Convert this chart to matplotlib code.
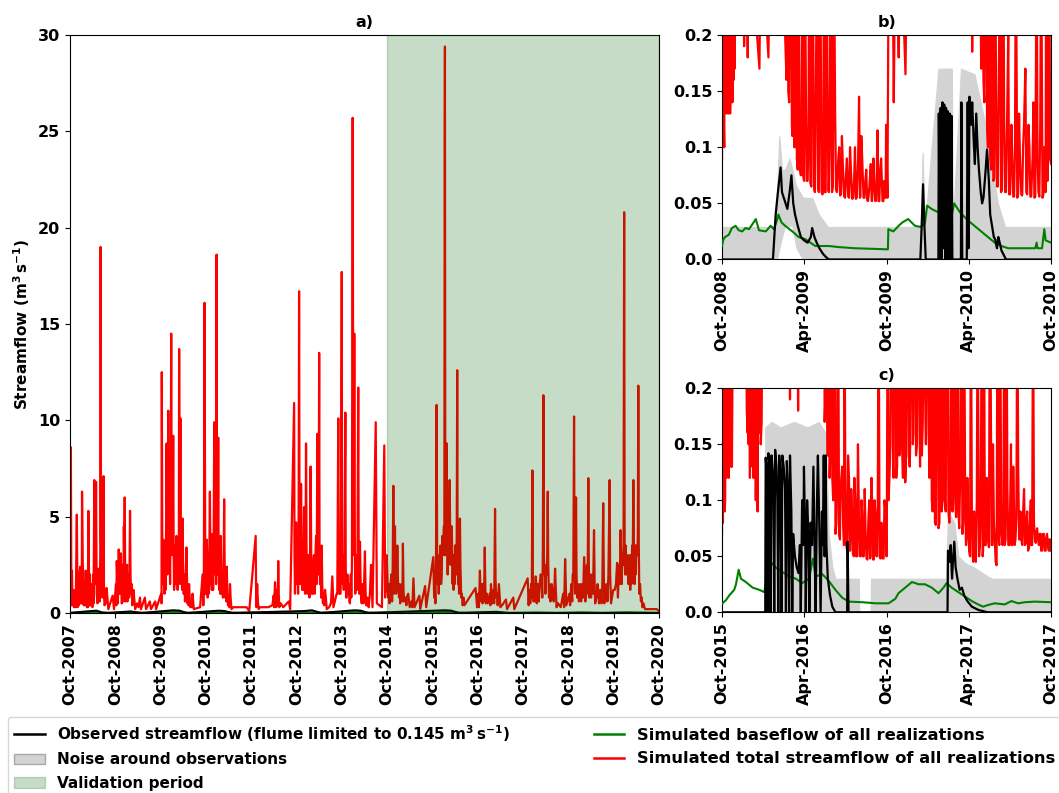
import numpy as np
import pandas as pd
import matplotlib
matplotlib.use("Agg")
import matplotlib.pyplot as plt
import matplotlib.dates as mdates
from matplotlib.lines import Line2D
from matplotlib.patches import Patch

plt.rcParams['font.family'] = 'DejaVu Sans'
plt.rcParams['font.weight'] = 'bold'
plt.rcParams['font.size'] = 11.5
plt.rcParams['axes.labelweight'] = 'bold'
plt.rcParams['axes.titleweight'] = 'bold'
plt.rcParams['mathtext.default'] = 'bf'

# ---- whole record: simulated total streamflow (m3/s), main events
total_dates = [
    '2007-10-01', '2007-10-08', '2007-10-12', '2007-10-25', '2007-11-05', '2007-11-25', '2007-12-01',
    '2007-12-15', '2008-01-06', '2008-01-12', '2008-01-20', '2008-02-05', '2008-02-15', '2008-02-26',
    '2008-03-05', '2008-03-20', '2008-03-30', '2008-04-14', '2008-04-20', '2008-04-28', '2008-05-10',
    '2008-05-20', '2008-05-28', '2008-06-04', '2008-06-10', '2008-06-28', '2008-07-05', '2008-07-22',
    '2008-08-05', '2008-09-09', '2008-09-20', '2008-10-12', '2008-10-20', '2008-10-28', '2008-11-05',
    '2008-11-13', '2008-11-25', '2008-12-08', '2008-12-15', '2008-12-25', '2009-01-10', '2009-01-20',
    '2009-01-27', '2009-02-05', '2009-02-24', '2009-03-10', '2009-04-17', '2009-04-25', '2009-05-27',
    '2009-06-05', '2009-07-06', '2009-07-15', '2009-08-18', '2009-08-25', '2009-10-10', '2009-10-15',
    '2009-10-23', '2009-11-01', '2009-11-18', '2009-11-24', '2009-12-01', '2009-12-08', '2009-12-25',
    '2010-01-02', '2010-01-10', '2010-01-20', '2010-02-05', '2010-02-15', '2010-02-27', '2010-03-03',
    '2010-03-09', '2010-03-15', '2010-03-27', '2010-04-05', '2010-04-27', '2010-05-05', '2010-05-18',
    '2010-05-28', '2010-06-15', '2010-06-25', '2010-08-15', '2010-09-04', '2010-09-10', '2010-09-20',
    '2010-09-26', '2010-10-08', '2010-10-15', '2010-11-02', '2010-11-10', '2010-11-20', '2010-11-28',
    '2010-12-07', '2010-12-14', '2010-12-26', '2011-01-02', '2011-01-08', '2011-01-15', '2011-01-28',
    '2011-02-05', '2011-02-25', '2011-03-05', '2011-03-18', '2011-03-28', '2011-04-13', '2011-04-25',
    '2011-06-05', '2011-08-25', '2011-09-15', '2011-11-06', '2011-11-12', '2011-11-18', '2011-11-30',
    '2012-02-15', '2012-04-10', '2012-04-20', '2012-05-06', '2012-05-15', '2012-07-30', '2012-08-10',
    '2012-09-11', '2012-09-18', '2012-09-27', '2012-10-05', '2012-10-21', '2012-10-28', '2012-11-06',
    '2012-11-15', '2012-11-30', '2012-12-08', '2012-12-16', '2012-12-25', '2013-01-04', '2013-01-12',
    '2013-01-22', '2013-02-01', '2013-02-13', '2013-02-25', '2013-03-07', '2013-03-12', '2013-03-17',
    '2013-03-24', '2013-04-01', '2013-04-08', '2013-04-21', '2013-05-01', '2013-05-18', '2013-06-01',
    '2013-07-16', '2013-07-25', '2013-08-20', '2013-09-02', '2013-09-10', '2013-09-30', '2013-10-08',
    '2013-10-29', '2013-11-08', '2013-11-21', '2013-12-05', '2013-12-27', '2014-01-02', '2014-01-09',
    '2014-01-20', '2014-02-10', '2014-02-18', '2014-02-24', '2014-03-10', '2014-04-05', '2014-04-15',
    '2014-05-24', '2014-06-05', '2014-07-01', '2014-07-10', '2014-08-20', '2014-09-08', '2014-09-15',
    '2014-09-27', '2014-10-10', '2014-11-20', '2014-11-26', '2014-12-03', '2014-12-12', '2014-12-22',
    '2015-01-05', '2015-02-05', '2015-02-15', '2015-03-20', '2015-04-01', '2015-05-01', '2015-05-10',
    '2015-06-18', '2015-06-25', '2015-08-03', '2015-08-12', '2015-10-08', '2015-10-15', '2015-11-04',
    '2015-11-12', '2015-12-01', '2015-12-15', '2016-01-08', '2016-01-10', '2016-01-16', '2016-01-24',
    '2016-02-01', '2016-02-17', '2016-02-24', '2016-03-04', '2016-03-12', '2016-04-01', '2016-04-10',
    '2016-04-18', '2016-04-25', '2016-05-10', '2016-05-20', '2016-06-15', '2016-09-13', '2016-09-25',
    '2016-10-18', '2016-10-28', '2016-11-26', '2016-12-05', '2017-01-15', '2017-01-25', '2017-02-17',
    '2017-02-25', '2017-03-20', '2017-04-01', '2017-05-16', '2017-05-25', '2017-07-14', '2017-07-22',
    '2017-11-07', '2017-11-15', '2017-12-15', '2017-12-25', '2018-01-11', '2018-01-20', '2018-02-20',
    '2018-03-05', '2018-03-14', '2018-03-22', '2018-04-18', '2018-04-28', '2018-05-20', '2018-06-16',
    '2018-06-28', '2018-09-05', '2018-09-15', '2018-11-05', '2018-11-16', '2018-11-24', '2018-12-02',
    '2018-12-12', '2019-02-05', '2019-02-15', '2019-03-11', '2019-03-20', '2019-04-26', '2019-05-05',
    '2019-07-09', '2019-07-18', '2019-08-30', '2019-09-10', '2019-10-29', '2019-11-05', '2019-11-26',
    '2019-12-05', '2019-12-25', '2020-01-02', '2020-02-02', '2020-02-12', '2020-03-08', '2020-03-18',
    '2020-04-17', '2020-04-25', '2020-05-28', '2020-06-10', '2020-09-13', '2020-09-30',
]
total_vals = [
    0.5, 8.6, 0.4, 1.0, 0.3, 5.1, 0.3,
    2.0, 6.3, 2.6, 0.4, 2.2, 0.3, 5.3,
    0.4, 1.5, 0.3, 6.9, 1.5, 6.8, 0.5,
    2.3, 0.6, 19.0, 2.5, 7.1, 0.4, 1.3,
    0.2, 0.9, 0.2, 2.7, 0.5, 3.3, 1.0,
    3.1, 0.6, 4.5, 6.0, 1.2, 2.0, 0.8,
    5.3, 1.0, 1.2, 0.2, 0.8, 0.2, 0.8,
    0.2, 0.6, 0.2, 0.6, 0.2, 12.5, 1.5,
    3.8, 1.0, 8.8, 2.0, 10.5, 2.5, 14.5,
    3.0, 9.2, 1.5, 4.0, 1.2, 13.7, 2.5,
    10.1, 1.5, 4.9, 1.0, 3.4, 0.5, 1.5,
    0.3, 1.0, 0.2, 0.3, 2.0, 0.4, 16.1,
    1.0, 3.8, 0.8, 6.3, 1.5, 4.1, 1.2,
    9.9, 2.0, 18.6, 2.0, 9.1, 1.2, 4.0,
    1.0, 5.9, 0.8, 2.4, 0.4, 1.5, 0.2,
    0.3, 0.3, 0.1, 4.0, 0.3, 1.5, 0.2,
    0.3, 1.6, 0.3, 2.7, 0.3, 0.6, 0.2,
    10.9, 1.0, 4.7, 1.5, 16.7, 1.5, 6.7,
    1.2, 5.5, 1.0, 8.8, 1.0, 3.0, 0.8,
    7.6, 1.0, 2.5, 1.0, 4.0, 1.5, 9.3,
    2.0, 13.5, 1.5, 3.5, 0.5, 1.2, 0.2,
    1.9, 0.3, 1.0, 10.1, 1.0, 17.7, 1.5,
    10.4, 0.8, 1.0, 0.5, 25.7, 3.0, 14.5,
    2.0, 11.7, 1.0, 3.7, 0.5, 3.2, 0.4,
    2.5, 0.3, 9.9, 0.5, 0.3, 8.7, 0.8,
    3.0, 0.8, 6.6, 1.0, 4.5, 1.0, 3.5,
    0.8, 3.6, 0.6, 1.0, 0.3, 1.8, 0.3,
    0.9, 0.2, 1.4, 0.3, 2.9, 0.8, 10.8,
    1.5, 3.0, 2.0, 24.4, 29.4, 3.0, 8.8,
    2.0, 6.9, 2.5, 4.5, 1.5, 3.5, 2.0,
    12.6, 1.5, 4.9, 0.8, 0.4, 1.3, 0.3,
    2.2, 0.6, 3.4, 0.5, 1.5, 0.5, 5.4,
    0.8, 1.5, 0.3, 0.7, 0.2, 0.8, 0.2,
    1.8, 0.4, 7.4, 0.6, 1.9, 0.5, 2.0,
    0.8, 11.3, 2.0, 6.3, 0.8, 1.5, 2.3,
    0.3, 2.8, 0.4, 2.0, 10.2, 1.0, 6.0,
    0.8, 2.9, 0.6, 7.0, 0.8, 4.3, 0.5,
    5.7, 0.5, 6.9, 0.5, 2.6, 0.8, 4.3,
    1.5, 20.8, 2.0, 3.0, 1.2, 6.9, 1.5,
    11.8, 1.0, 0.5, 0.2, 0.2, 0.1,
]

# smaller wet-season flows between the main events
minor_dates = [
    '2007-10-17', '2007-10-20', '2007-10-30', '2007-11-02', '2007-11-12', '2007-11-16', '2007-12-08',
    '2007-12-11', '2007-12-22', '2007-12-26', '2008-01-02', '2008-01-04', '2008-01-15', '2008-01-17',
    '2008-01-25', '2008-01-28', '2008-02-10', '2008-02-12', '2008-02-20', '2008-02-23', '2008-03-10',
    '2008-03-13', '2008-03-25', '2008-03-27', '2008-04-05', '2008-04-08', '2008-04-17', '2008-04-24',
    '2008-05-03', '2008-05-15', '2008-06-01', '2008-06-07', '2008-06-14', '2008-06-18', '2008-06-23',
    '2008-07-01', '2008-07-15',
    '2008-10-06', '2008-10-09', '2008-10-16', '2008-10-24', '2008-11-01', '2008-11-09', '2008-11-18',
    '2008-11-21', '2008-12-01', '2008-12-04', '2008-12-11', '2008-12-19', '2008-12-22', '2009-01-03',
    '2009-01-06', '2009-01-15', '2009-01-23', '2009-01-31', '2009-02-10', '2009-02-14', '2009-03-01',
    '2009-03-25', '2009-04-05',
    '2009-10-05', '2009-10-08', '2009-10-19', '2009-10-27', '2009-11-05', '2009-11-09', '2009-11-13',
    '2009-11-21', '2009-11-28', '2009-12-04', '2009-12-12', '2009-12-16', '2009-12-20', '2009-12-29',
    '2010-01-06', '2010-01-14', '2010-01-17', '2010-01-25', '2010-01-30', '2010-02-09', '2010-02-20',
    '2010-02-24', '2010-03-19', '2010-03-23', '2010-03-31', '2010-04-10', '2010-04-15', '2010-04-21',
    '2010-05-10', '2010-05-14', '2010-05-23', '2010-06-05', '2010-06-10',
    '2010-09-14', '2010-09-30', '2010-10-04', '2010-10-12', '2010-10-20', '2010-10-24', '2010-10-29',
    '2010-11-06', '2010-11-14', '2010-11-17', '2010-11-24', '2010-12-02', '2010-12-10', '2010-12-18',
    '2010-12-22', '2010-12-30', '2011-01-05', '2011-01-11', '2011-01-20', '2011-01-24', '2011-02-01',
    '2011-02-10', '2011-02-15', '2011-02-20', '2011-03-01', '2011-03-10', '2011-03-14', '2011-03-23',
    '2011-04-05', '2011-04-08', '2011-04-18', '2011-05-10',
    '2011-11-09', '2011-11-24', '2011-12-10', '2012-01-15', '2012-03-20', '2012-03-30', '2012-04-03',
    '2012-04-15', '2012-04-27', '2012-05-02', '2012-05-10', '2012-05-25', '2012-06-15',
    '2012-09-14', '2012-09-22', '2012-10-01', '2012-10-09', '2012-10-13', '2012-10-17', '2012-10-25',
    '2012-11-02', '2012-11-10', '2012-11-19', '2012-11-23', '2012-11-26', '2012-12-04', '2012-12-12',
    '2012-12-20', '2012-12-29', '2013-01-08', '2013-01-17', '2013-01-27', '2013-02-05', '2013-02-09',
    '2013-02-18', '2013-02-21', '2013-03-02', '2013-03-20', '2013-03-28', '2013-04-04', '2013-04-13',
    '2013-04-17', '2013-04-26', '2013-05-08', '2013-05-12', '2013-05-25', '2013-06-20', '2013-07-05',
    '2013-08-25', '2013-09-06', '2013-09-14', '2013-09-18', '2013-09-23', '2013-10-03', '2013-10-12',
    '2013-10-16', '2013-10-22', '2013-11-01', '2013-11-04', '2013-11-14', '2013-11-27', '2013-12-01',
    '2013-12-12', '2013-12-16', '2013-12-21', '2014-01-05', '2014-01-14', '2014-01-17', '2014-01-25',
    '2014-01-30', '2014-02-04', '2014-02-14', '2014-02-28', '2014-03-05', '2014-03-18', '2014-03-25',
    '2014-04-10', '2014-04-25', '2014-05-05', '2014-05-15',
    '2014-09-20', '2014-10-05', '2014-10-15', '2014-10-20', '2014-10-28', '2014-11-05', '2014-11-10',
    '2014-11-15', '2014-11-30', '2014-12-07', '2014-12-17', '2014-12-28', '2015-01-10', '2015-01-14',
    '2015-01-22', '2015-01-28', '2015-02-01', '2015-02-10', '2015-02-25', '2015-03-05', '2015-03-12',
    '2015-04-15', '2015-04-22',
    '2015-10-20', '2015-10-25', '2015-10-30', '2015-11-08', '2015-11-17', '2015-11-21', '2015-11-26',
    '2015-12-05', '2015-12-10', '2015-12-20', '2015-12-27', '2016-01-02', '2016-01-05', '2016-01-13',
    '2016-01-20', '2016-01-28', '2016-02-05', '2016-02-10', '2016-02-13', '2016-02-21', '2016-02-28',
    '2016-03-08', '2016-03-16', '2016-03-20', '2016-03-25', '2016-03-29', '2016-04-05', '2016-04-14',
    '2016-04-21', '2016-04-29', '2016-05-03', '2016-05-14', '2016-05-25', '2016-06-01', '2016-06-08',
    '2016-10-05', '2016-10-10', '2016-10-23', '2016-11-03', '2016-11-08', '2016-11-15', '2016-11-20',
    '2016-12-01', '2016-12-12', '2016-12-20', '2017-01-05', '2017-01-10', '2017-02-05', '2017-02-10',
    '2017-02-21', '2017-03-05', '2017-03-10', '2017-03-27', '2017-04-15',
    '2017-11-20', '2017-11-28', '2017-12-05', '2017-12-10', '2017-12-19', '2017-12-30', '2018-01-05',
    '2018-01-15', '2018-01-28', '2018-02-05', '2018-02-12', '2018-02-26', '2018-03-09', '2018-03-18',
    '2018-03-26', '2018-03-30', '2018-04-06', '2018-04-12', '2018-04-22', '2018-05-03', '2018-05-10',
    '2018-05-27', '2018-06-05', '2018-06-10', '2018-06-22', '2018-07-10', '2018-08-01', '2018-08-20',
    '2018-08-28',
    '2018-10-10', '2018-10-15', '2018-10-25', '2018-11-01', '2018-11-10', '2018-11-20', '2018-11-28',
    '2018-12-06', '2018-12-18', '2018-12-25', '2019-01-05', '2019-01-12', '2019-01-20', '2019-01-28',
    '2019-02-10', '2019-02-20', '2019-02-28', '2019-03-05', '2019-03-15', '2019-03-25', '2019-04-02',
    '2019-04-10', '2019-04-18', '2019-04-22', '2019-05-01', '2019-05-15', '2019-05-25', '2019-06-05',
    '2019-06-15', '2019-06-25', '2019-07-02', '2019-07-14', '2019-07-25', '2019-08-05', '2019-08-12',
    '2019-08-20', '2019-09-03', '2019-09-18', '2019-09-28',
    '2019-10-10', '2019-10-20', '2019-11-01', '2019-11-12', '2019-11-18', '2019-11-22', '2019-11-30',
    '2019-12-10', '2019-12-15', '2019-12-20', '2019-12-29', '2020-01-07', '2020-01-12', '2020-01-17',
    '2020-01-24', '2020-01-28', '2020-02-07', '2020-02-17', '2020-02-22', '2020-02-27', '2020-03-03',
    '2020-03-13', '2020-03-23', '2020-03-28', '2020-04-02', '2020-04-09', '2020-04-13', '2020-04-21',
    '2020-05-01', '2020-05-08', '2020-05-15', '2020-05-20',
]
minor_vals = [
    2.2, 0.4, 1.2, 0.3, 0.9, 0.3, 1.5,
    0.4, 2.4, 0.5, 1.5, 0.5, 2.0, 0.6,
    1.3, 0.4, 1.6, 0.4, 1.0, 0.3, 2.0,
    0.4, 1.2, 0.4, 2.0, 0.5, 4.0, 2.0,
    1.0, 1.2, 3.0, 4.0, 2.0, 0.8, 2.5,
    1.0, 0.5,
    1.5, 0.4, 1.8, 1.2, 2.0, 1.8, 1.5,
    0.5, 2.5, 0.6, 3.0, 2.0, 0.6, 2.5,
    0.6, 1.8, 2.2, 2.0, 1.5, 0.4, 0.8,
    0.5, 0.3,
    1.0, 0.5, 3.0, 2.5, 3.5, 1.2, 4.0,
    3.0, 3.5, 4.0, 3.5, 1.5, 4.5, 3.5,
    4.0, 3.0, 1.2, 3.5, 1.5, 3.0, 3.5,
    1.5, 3.0, 1.2, 2.5, 2.0, 0.6, 1.8,
    1.0, 0.4, 0.8, 0.5, 0.3,
    1.5, 2.5, 1.0, 2.5, 2.5, 1.0, 3.5,
    3.0, 2.5, 1.2, 3.0, 3.5, 3.5, 3.5,
    1.5, 3.5, 3.5, 3.0, 2.5, 1.0, 2.5,
    2.0, 0.8, 2.2, 2.5, 1.5, 0.6, 1.0,
    0.6, 0.3, 0.8, 0.3,
    1.5, 0.6, 0.3, 0.3, 0.4, 0.9, 0.3,
    1.0, 1.2, 0.4, 1.0, 0.5, 0.3,
    3.0, 2.5, 3.0, 2.5, 1.0, 4.0, 3.0,
    3.5, 3.0, 3.5, 1.2, 3.0, 3.5, 2.5,
    3.5, 2.5, 2.5, 2.8, 3.0, 2.5, 1.0,
    3.0, 1.2, 3.0, 3.5, 4.0, 3.0, 2.5,
    0.8, 1.5, 1.0, 0.4, 0.8, 0.3, 0.5,
    1.0, 3.0, 2.5, 1.0, 3.0, 3.0, 3.0,
    1.2, 3.0, 2.5, 0.8, 2.0, 1.5, 0.6,
    2.0, 0.8, 2.5, 3.5, 3.0, 1.0, 3.0,
    1.2, 3.0, 2.5, 2.0, 0.8, 1.5, 0.5,
    1.2, 0.8, 0.3, 1.0,
    1.5, 1.5, 1.5, 0.5, 1.5, 2.0, 0.6,
    2.5, 2.0, 2.0, 1.5, 1.5, 1.5, 0.5,
    1.2, 1.5, 0.6, 1.2, 0.8, 0.4, 0.9,
    0.6, 0.3,
    1.5, 0.5, 3.0, 3.5, 2.5, 1.0, 3.0,
    3.5, 1.5, 4.0, 3.5, 4.5, 3.0, 4.0,
    4.5, 4.0, 4.0, 3.0, 4.5, 4.5, 3.5,
    3.5, 3.0, 1.2, 3.0, 1.5, 3.5, 4.0,
    3.0, 2.0, 1.0, 2.5, 1.0, 0.4, 0.8,
    1.0, 0.3, 1.0, 1.5, 0.5, 1.5, 0.6,
    1.2, 1.0, 0.5, 1.0, 0.4, 1.2, 0.5,
    1.8, 1.0, 0.4, 0.8, 0.4,
    1.2, 0.5, 1.5, 0.8, 2.0, 1.5, 0.6,
    1.5, 1.5, 0.6, 1.5, 1.8, 3.0, 3.0,
    2.5, 1.0, 2.5, 2.0, 2.5, 1.5, 0.6,
    1.0, 0.6, 1.2, 1.2, 0.5, 0.3, 1.0,
    0.3,
    1.0, 0.4, 1.5, 0.6, 2.0, 2.5, 2.0,
    2.0, 1.5, 0.6, 1.5, 0.6, 1.5, 0.8,
    2.0, 1.5, 2.5, 1.0, 2.5, 2.0, 0.8,
    2.0, 1.0, 2.5, 1.5, 0.8, 1.5, 0.5,
    1.2, 0.5, 1.5, 2.0, 1.0, 1.5, 0.6,
    2.0, 2.0, 0.8, 1.2,
    1.2, 1.5, 1.5, 2.5, 1.5, 2.5, 3.0,
    3.0, 2.5, 3.5, 3.0, 3.5, 2.0, 3.0,
    2.5, 1.5, 2.5, 3.0, 1.5, 3.5, 2.5,
    3.0, 3.5, 2.0, 3.5, 3.0, 4.0, 3.5,
    1.5, 0.6, 0.8, 0.3,
]

# observed flow and baseflow over the whole record (small next to the peaks)
obs_dates = ['2007-10-01', '2007-12-20', '2008-02-10', '2008-05-01', '2008-06-20', '2008-08-01',
             '2009-02-01', '2009-02-20', '2009-05-01', '2010-01-10', '2010-03-01', '2010-05-01',
             '2011-01-10', '2011-03-01', '2011-05-01', '2012-12-01', '2013-02-01', '2013-04-15',
             '2014-01-10', '2014-03-01', '2014-05-01', '2016-01-10', '2016-03-01', '2016-05-01',
             '2017-03-01', '2017-04-01', '2017-06-01', '2020-09-30']
obs_vals = [0.0, 0.05, 0.08, 0.12, 0.02, 0.0,
            0.08, 0.06, 0.0, 0.14, 0.12, 0.0,
            0.12, 0.1, 0.0, 0.1, 0.14, 0.0,
            0.14, 0.12, 0.0, 0.14, 0.12, 0.0,
            0.06, 0.04, 0.0, 0.0]
base_dates = ['2007-10-01', '2008-01-15', '2008-05-01', '2008-09-01', '2009-01-15', '2009-06-01',
              '2010-01-15', '2010-06-01', '2011-01-15', '2011-07-01', '2012-01-15', '2012-07-01',
              '2013-01-15', '2013-07-01', '2014-01-15', '2014-07-01', '2015-01-15', '2015-07-01',
              '2016-01-15', '2016-07-01', '2017-01-15', '2017-07-01', '2018-01-15', '2018-07-01',
              '2019-01-15', '2019-07-01', '2020-01-15', '2020-09-30']
base_vals = [0.01, 0.03, 0.03, 0.01, 0.035, 0.01, 0.045, 0.01, 0.04, 0.01, 0.02, 0.01,
             0.04, 0.012, 0.045, 0.012, 0.03, 0.01, 0.05, 0.01, 0.027, 0.01, 0.03, 0.01,
             0.035, 0.012, 0.04, 0.01]

# ---- panel b: Oct-2008 to Oct-2010, days since 2008-10-01
b_start = '2008-10-01'
b_total_days = [0, 3, 5, 7, 10, 15, 18, 22, 26, 29, 46, 49, 53, 57, 60, 83, 86, 103, 106, 138,
                143, 146, 149, 153, 156, 159, 162, 165, 168, 171, 175, 178, 182, 186, 190, 193,
                198, 202, 206, 211, 215, 219, 223, 226, 230, 234, 237, 241, 246, 251, 255, 260,
                264, 268, 273, 277, 282, 286, 291, 295, 299, 304, 307, 311, 316, 320, 324, 330,
                333, 338, 341, 345, 349, 353, 358, 361, 364, 367, 370, 378, 381, 385, 392, 396,
                407, 411, 553, 555, 558, 569, 580, 584, 588, 591, 595, 599, 602, 606, 610, 615,
                619, 624, 628, 633, 637, 642, 646, 650, 655, 659, 664, 668, 673, 675, 680, 684,
                689, 693, 698, 702, 706, 711, 715, 718, 721, 724, 726, 730]
b_total_vals = [0.09, 0.3, 0.10, 0.3, 0.13, 0.3, 0.13, 0.3, 0.16, 0.3, 0.3, 0.19, 0.3, 0.18, 0.3,
                0.17, 0.3, 0.18, 0.3, 0.3,
                0.16, 0.3, 0.14, 0.3, 0.11, 0.25, 0.10, 0.3, 0.08, 0.20, 0.075, 0.3, 0.07, 0.15,
                0.07, 0.3, 0.065, 0.25, 0.06, 0.3, 0.06, 0.20, 0.058, 0.3, 0.06, 0.16, 0.06, 0.3,
                0.065, 0.13, 0.06, 0.10, 0.058, 0.085, 0.055, 0.09, 0.055, 0.08, 0.055, 0.10,
                0.055, 0.145, 0.056, 0.09, 0.055, 0.08, 0.052, 0.085, 0.052, 0.065, 0.052, 0.115,
                0.052, 0.09, 0.052, 0.055, 0.12, 0.055, 0.3, 0.3, 0.14, 0.3, 0.18, 0.3,
                0.165, 0.3, 0.3, 0.185, 0.3, 0.3, 0.16, 0.3, 0.12, 0.3, 0.09, 0.25, 0.07, 0.3,
                0.065, 0.20, 0.06, 0.3, 0.06, 0.14, 0.058, 0.12, 0.056, 0.10, 0.055, 0.13, 0.058,
                0.10, 0.17, 0.06, 0.12, 0.056, 0.09, 0.055, 0.3, 0.06, 0.12, 0.055, 0.10, 0.06,
                0.3, 0.10, 0.3, 0.085]
# further realizations in the same window
b_extra_days = [1, 2, 4, 6, 8, 9, 11, 12, 13, 14, 16, 17, 19, 20, 21, 23, 24, 25, 27, 28,
                140, 144, 147, 151, 155, 157, 160, 164, 166, 170, 173, 177, 180, 184, 188, 192,
                196, 200, 204, 208, 213, 217, 221, 225, 228, 232, 236, 239, 244, 248, 253, 258,
                262, 266, 271, 275, 280, 284, 289, 293, 297, 302, 306, 309, 314, 318, 322, 327,
                332, 336, 340, 343, 347, 351, 356, 360, 363,
                572, 575, 578, 582, 586, 590, 593, 597, 600, 604, 608, 612, 617, 621, 626, 630,
                635, 639, 644, 648, 652, 657, 661, 666, 670, 677, 682, 686, 691, 695, 700, 704,
                708, 713, 716, 719, 722, 725, 728]
b_extra_vals = [0.3, 0.11, 0.12, 0.3, 0.14, 0.3, 0.3, 0.15, 0.3, 0.13, 0.14, 0.3, 0.16, 0.3,
                0.15, 0.14, 0.3, 0.18, 0.3, 0.17,
                0.2, 0.3, 0.15, 0.3, 0.12, 0.3, 0.10, 0.2, 0.09, 0.3, 0.08, 0.12, 0.075, 0.3,
                0.07, 0.12, 0.068, 0.3, 0.065, 0.14, 0.063, 0.3, 0.06, 0.12, 0.06, 0.3, 0.062,
                0.11, 0.06, 0.3, 0.062, 0.09, 0.057, 0.11, 0.056, 0.075, 0.056, 0.10, 0.054,
                0.07, 0.054, 0.09, 0.055, 0.11, 0.055, 0.07, 0.053, 0.065, 0.052, 0.09, 0.052,
                0.07, 0.052, 0.08, 0.052, 0.07, 0.055,
                0.3, 0.17, 0.3, 0.14, 0.3, 0.10, 0.3, 0.08, 0.3, 0.072, 0.15, 0.065, 0.3, 0.062,
                0.12, 0.06, 0.2, 0.058, 0.09, 0.056, 0.3, 0.058, 0.09, 0.057, 0.12, 0.058, 0.10,
                0.056, 0.14, 0.056, 0.09, 0.056, 0.3, 0.058, 0.09, 0.3, 0.07, 0.3, 0.09]
b_obs_days = [0, 113, 119, 124, 130, 133, 137, 141, 145, 150, 154, 158, 162, 168, 175, 182, 190,
              197, 200, 205, 210, 216, 224, 231, 237, 440, 443, 446, 449, 452, 480, 481, 483, 485,
              487, 489, 491, 493, 495, 497, 499, 501, 503, 505, 507, 509, 511, 530, 531, 533, 543,
              545, 547, 549, 551, 553, 555, 559, 561, 564, 567, 570, 574, 577, 580, 584, 588, 592,
              595, 599, 603, 606, 610, 613, 616, 620, 625, 630, 730]
b_obs_vals = [0, 0, 0.04, 0.06, 0.082, 0.06, 0.055, 0.05, 0.045, 0.06, 0.075, 0.05, 0.04, 0.03,
              0.02, 0.017, 0.015, 0.02, 0.028, 0.02, 0.015, 0.01, 0.005, 0.002, 0, 0, 0.03, 0.067,
              0.03, 0, 0, 0.13, 0, 0.135, 0, 0.14, 0.01, 0.138, 0, 0.135, 0, 0.132, 0, 0.13, 0,
              0.128, 0, 0, 0.14, 0, 0, 0.14, 0.01, 0.145, 0.13, 0.12, 0.14, 0.10, 0.085, 0.13,
              0.10, 0.08, 0.06, 0.05, 0.055, 0.075, 0.098, 0.07, 0.04, 0.03, 0.02, 0.018, 0.01,
              0.02, 0.015, 0.008, 0.004, 0, 0]
b_base_days = [0, 3, 7, 15, 22, 30, 37, 45, 52, 60, 75, 82, 97, 108, 115, 122, 125, 132, 140, 156,
               170, 185, 207, 237, 260, 295, 333, 368, 369, 380, 392, 400, 413, 428, 440, 450, 455,
               465, 480, 495, 510, 515, 528, 545, 560, 575, 590, 605, 620, 635, 695, 698, 700, 710,
               715, 718, 730]
b_base_vals = [0.012, 0.018, 0.02, 0.022, 0.028, 0.03, 0.026, 0.025, 0.028, 0.027, 0.036, 0.026,
               0.025, 0.03, 0.027, 0.035, 0.04, 0.033, 0.03, 0.025, 0.02, 0.018, 0.012, 0.012,
               0.011, 0.01, 0.0095, 0.009, 0.027, 0.025, 0.03, 0.033, 0.036, 0.03, 0.029, 0.032,
               0.048, 0.045, 0.042, 0.04, 0.04, 0.05, 0.042, 0.035, 0.03, 0.025, 0.02, 0.015,
               0.012, 0.01, 0.01, 0.015, 0.01, 0.01, 0.027, 0.017, 0.015]
b_noise_days = [0, 118, 122, 127, 133, 140, 150, 156, 165, 180, 200, 215, 235, 441, 445, 450, 480,
                510, 512, 530, 560, 590, 600, 612, 628, 730]
b_noise_low = [0, 0, 0, 0.01, 0.02, 0.03, 0.03, 0.03, 0.01, 0, 0, 0, 0, 0, 0, 0, 0,
               0, 0, 0, 0, 0, 0, 0, 0, 0]
b_noise_high = [0.029, 0.029, 0.06, 0.11, 0.08, 0.08, 0.09, 0.08, 0.065, 0.055, 0.055, 0.04,
                0.029, 0.029, 0.095, 0.029, 0.17, 0.17, 0.029, 0.17, 0.165, 0.11, 0.08, 0.05,
                0.029, 0.029]

# ---- panel c: Oct-2015 to Oct-2017, days since 2015-10-01
c_start = '2015-10-01'
c_total_days = [0, 3, 6, 9, 13, 16, 20, 24, 53, 57, 60, 64, 68, 72, 75, 79, 83, 86, 90, 149, 151,
                153, 167, 169, 171, 223, 230, 234, 237, 241, 245, 249, 252, 256, 260, 263, 267,
                271, 274, 278, 282, 285, 289, 293, 296, 300, 304, 308, 311, 315, 319, 323, 327,
                330, 334, 337, 341, 344, 348, 352, 355, 359, 363, 366, 370, 374, 378, 381, 385,
                389, 392, 396, 400, 404, 407, 411, 415, 418, 422, 425, 429, 433, 437, 440, 444,
                448, 451, 455, 459, 462, 466, 470, 473, 477, 481, 485, 488, 492, 495, 499, 503,
                507, 510, 514, 518, 522, 525, 529, 532, 536, 540, 544, 547, 551,
                555, 558, 562, 566, 569, 573, 577, 580, 584, 588, 591, 595, 599, 602, 606, 610,
                614, 618, 621, 625, 628, 632, 636, 640, 643, 647, 650, 654, 658, 661, 665, 669,
                673, 676, 680, 684, 687, 691, 695, 698, 702, 706, 709, 713, 717, 720, 724, 727,
                730]
c_total_vals = [0.07, 0.3, 0.09, 0.3, 0.13, 0.3, 0.13, 0.3, 0.3, 0.16, 0.3, 0.13, 0.3, 0.14, 0.10,
                0.09, 0.3, 0.15, 0.3, 0.3, 0.19,
                0.3, 0.3, 0.18, 0.3, 0.3, 0.20, 0.14, 0.3, 0.15, 0.12, 0.3, 0.07, 0.13, 0.07,
                0.10, 0.13, 0.06, 0.11, 0.055, 0.12, 0.055, 0.09, 0.05, 0.10, 0.05, 0.09, 0.05,
                0.09, 0.05, 0.07, 0.047, 0.10, 0.05, 0.09, 0.047, 0.085, 0.05, 0.3, 0.048, 0.06,
                0.048, 0.09, 0.05, 0.10, 0.15, 0.3, 0.12, 0.3,
                0.13, 0.3, 0.15, 0.15, 0.3, 0.116, 0.3, 0.14, 0.15, 0.3, 0.16, 0.3, 0.15, 0.3,
                0.13, 0.14, 0.3, 0.2, 0.3, 0.16, 0.3, 0.10, 0.3, 0.08, 0.3, 0.075, 0.3, 0.09,
                0.3, 0.10, 0.3, 0.09,
                0.10, 0.3, 0.12, 0.10, 0.3, 0.09, 0.12, 0.3, 0.08, 0.11, 0.07, 0.08, 0.05,
                0.09, 0.045,
                0.06, 0.10, 0.20, 0.06, 0.3, 0.055, 0.06, 0.12, 0.065, 0.3, 0.06, 0.15, 0.065,
                0.042, 0.07, 0.3, 0.07, 0.075, 0.06, 0.3, 0.06, 0.09, 0.06, 0.13, 0.06, 0.085,
                0.13, 0.065, 0.065, 0.09, 0.06, 0.08, 0.055, 0.08, 0.06, 0.3, 0.065, 0.07, 0.065,
                0.07, 0.055, 0.07, 0.055, 0.065, 0.06, 0.065, 0.055]
c_extra_days = [1, 2, 4, 5, 7, 8, 10, 11, 12, 14, 15, 17, 18, 19, 21, 22, 23,
                55, 58, 59, 62, 63, 66, 67, 70, 71, 74, 77, 78, 81, 82, 85, 88,
                227, 228, 232, 236, 239, 243, 247, 251, 254, 258, 262, 265, 269, 272, 276, 280,
                284, 287, 291, 294, 298, 302, 306, 310, 313, 317, 321, 325, 329, 332, 336, 339,
                343, 346, 350, 354, 357, 361, 365, 368,
                372, 376, 380, 383, 387, 391, 394, 398, 402, 406, 409, 413, 417, 420, 424, 427,
                431, 435, 439, 442, 446, 450, 453, 457, 461, 464, 468, 472, 475, 479, 483, 487,
                490, 494, 497, 501, 505, 509, 512, 516, 520, 523, 527, 531, 534, 538, 542, 545,
                549, 553, 557, 560, 564, 568, 571, 575, 579, 582, 586, 590, 593, 597, 601, 604,
                608, 612, 616, 620, 623, 627, 630, 634, 638, 642, 645, 649, 652, 656, 660, 663,
                667, 671, 675, 678, 682, 686, 689, 693, 697, 700, 704, 708, 711, 715, 719, 722,
                726, 729]
c_extra_vals = [0.3, 0.08, 0.11, 0.3, 0.10, 0.3, 0.12, 0.3, 0.14, 0.3, 0.12, 0.15, 0.3, 0.14,
                0.3, 0.13, 0.2,
                0.18, 0.3, 0.15, 0.12, 0.3, 0.14, 0.3, 0.12, 0.3, 0.3, 0.3, 0.12, 0.3, 0.16, 0.3,
                0.17,
                0.3, 0.17, 0.3, 0.14, 0.12, 0.3, 0.10, 0.3, 0.08, 0.3, 0.065, 0.12, 0.08, 0.3,
                0.06, 0.14, 0.055, 0.11, 0.052, 0.12, 0.05, 0.15, 0.05, 0.10, 0.05, 0.11, 0.048,
                0.08, 0.048, 0.12, 0.047, 0.10, 0.05, 0.10, 0.05, 0.08, 0.048, 0.10, 0.05, 0.3,
                0.12, 0.3, 0.13, 0.3, 0.12, 0.3, 0.14, 0.3, 0.12, 0.3, 0.14, 0.3, 0.13, 0.3, 0.15,
                0.3, 0.14, 0.3, 0.16, 0.3, 0.17, 0.3, 0.15, 0.3, 0.12, 0.3, 0.09, 0.3, 0.078,
                0.3, 0.08, 0.3, 0.10, 0.3, 0.09, 0.3, 0.08, 0.3, 0.09, 0.3, 0.085, 0.3, 0.075,
                0.3, 0.07, 0.3, 0.06, 0.12, 0.055, 0.3, 0.05, 0.09, 0.045, 0.3, 0.05, 0.10, 0.05,
                0.3, 0.06, 0.10, 0.058, 0.2, 0.06, 0.08, 0.045, 0.3, 0.06, 0.10, 0.06, 0.3,
                0.065, 0.11, 0.06, 0.15, 0.06, 0.09, 0.065, 0.3, 0.065, 0.09, 0.06, 0.11, 0.062,
                0.09, 0.058, 0.10, 0.06, 0.08, 0.062, 0.075, 0.06, 0.07, 0.055, 0.07, 0.055,
                0.07, 0.055, 0.065]
c_obs_days = [0, 96, 97, 100, 101, 103, 106, 108, 110, 114, 116, 118, 121, 123, 125, 127, 130, 132,
              134, 137, 140, 142, 144, 147, 149, 151, 154, 156, 158, 162, 166, 170, 173, 175, 178,
              181, 182, 185, 186, 189, 192, 194, 197, 200, 203, 206, 208, 211, 213, 216, 219, 222,
              224, 226, 228, 230, 232, 235, 240, 245, 252, 278, 279, 281, 501, 502, 505, 508, 511,
              513, 516, 519, 523, 528, 533, 538, 545, 555, 570, 590, 730]
c_obs_vals = [0, 0, 0.138, 0.12, 0, 0.142, 0.13, 0, 0.14, 0.12, 0, 0.145, 0.13, 0.10, 0, 0.14, 0.12,
              0, 0.14, 0.13, 0.11, 0, 0.135, 0.10, 0, 0.14, 0.09, 0, 0.07, 0.05, 0.04, 0.035, 0.06,
              0, 0.10, 0.06, 0.13, 0.06, 0, 0.10, 0.07, 0, 0.08, 0.06, 0.13, 0.05, 0, 0.10, 0.14,
              0.08, 0, 0.09, 0.06, 0.14, 0.05, 0.14, 0.06, 0.03, 0.015, 0.005, 0, 0, 0.063, 0,
              0, 0.055, 0.045, 0.06, 0.03, 0.045, 0.063, 0.04, 0.03, 0.02, 0.022, 0.015, 0.01,
              0.005, 0.002, 0, 0]
c_base_days = [1, 9, 16, 27, 31, 37, 42, 53, 68, 83, 94, 99, 103, 108, 119, 134, 149, 164, 178,
               193, 202, 208, 223, 237, 252, 267, 282, 311, 341, 370, 385, 392, 407, 422, 437, 451,
               466, 481, 492, 499, 510, 525, 540, 555, 569, 580, 591, 606, 628, 643, 658, 673, 695,
               730]
c_base_vals = [0.008, 0.011, 0.015, 0.02, 0.025, 0.038, 0.03, 0.027, 0.022, 0.02, 0.018, 0.03,
               0.058, 0.045, 0.04, 0.036, 0.032, 0.03, 0.026, 0.03, 0.048, 0.032, 0.034, 0.028,
               0.02, 0.013, 0.0095, 0.009, 0.008, 0.008, 0.012, 0.017, 0.022, 0.027, 0.025, 0.025,
               0.022, 0.017, 0.022, 0.026, 0.022, 0.018, 0.014, 0.01, 0.007, 0.005, 0.0065, 0.008,
               0.007, 0.01, 0.008, 0.009, 0.0095, 0.009]
c_noise_days = [0, 95, 96, 110, 130, 160, 190, 215, 230, 237, 245, 252, 304, 305, 330, 331, 498,
                502, 516, 525, 540, 560, 590, 600, 730]
c_noise_low = [0] * 25
c_noise_high = [0, 0, 0.165, 0.17, 0.165, 0.17, 0.165, 0.17, 0.16, 0.07, 0.04, 0.03, 0.03, 0,
                0, 0.03, 0.03, 0.09, 0.08, 0.05, 0.044, 0.04, 0.032, 0.03, 0.03]


def day_axis(start, days):
    return pd.Timestamp(start) + pd.to_timedelta(days, unit='D')


def merged(start, days_a, vals_a, days_b, vals_b):
    s = pd.Series(vals_a + vals_b, index=day_axis(start, days_a + days_b))
    return s.sort_index(kind='stable')


# main events and smaller flows form one series
red = pd.Series(total_vals + minor_vals,
                index=pd.to_datetime(total_dates + minor_dates)).sort_index(kind='stable')
red_b = merged(b_start, b_total_days, b_total_vals, b_extra_days, b_extra_vals)
red_c = merged(c_start, c_total_days, c_total_vals, c_extra_days, c_extra_vals)

fig = plt.figure(figsize=(10.59, 7.93), dpi=100)
ax_a = fig.add_axes([0.0661, 0.227, 0.5562, 0.7289])
ax_b = fig.add_axes([0.6818, 0.6728, 0.3107, 0.2831])
ax_c = fig.add_axes([0.6818, 0.2279, 0.3107, 0.2825])

# a) full record
ax_a.plot(red.index, red.values, color='red', lw=1.6)
ax_a.plot(pd.to_datetime(base_dates), base_vals, color='green', lw=1.5)
ax_a.plot(pd.to_datetime(obs_dates), obs_vals, color='black', lw=1.5)
ax_a.axvspan(pd.Timestamp('2014-10-01'), pd.Timestamp('2020-10-01'),
             color='darkgreen', alpha=0.22, zorder=3)
ax_a.set_xlim(pd.Timestamp('2007-10-01'), pd.Timestamp('2020-10-01'))
ax_a.set_ylim(0, 30)
ax_a.set_yticks([0, 5, 10, 15, 20, 25, 30])
ax_a.set_xticks(pd.date_range('2007-10-01', '2020-10-01', freq='12MS'))
ax_a.xaxis.set_major_formatter(mdates.DateFormatter('%b-%Y'))
ax_a.set_ylabel(r'Streamflow (m$^3\,$s$^{-1}$)', fontsize=11)
ax_a.set_title('a)', fontsize=11.5)

# b) and c) zoom on the low flows
for ax, start, tot, od, ov, bd, bv, nd, nl, nh, title in [
        (ax_b, b_start, red_b, b_obs_days, b_obs_vals,
         b_base_days, b_base_vals, b_noise_days, b_noise_low, b_noise_high, 'b)'),
        (ax_c, c_start, red_c, c_obs_days, c_obs_vals,
         c_base_days, c_base_vals, c_noise_days, c_noise_low, c_noise_high, 'c)')]:
    ax.fill_between(day_axis(start, nd), nl, nh, color='lightgray', lw=0.8, zorder=1)
    ax.plot(tot.index, tot.values, color='red', lw=1.6, zorder=2)
    ax.plot(day_axis(start, bd), bv, color='green', lw=1.5, zorder=3)
    ax.plot(day_axis(start, od), ov, color='black', lw=1.6, zorder=4)
    t0 = pd.Timestamp(start)
    ax.set_xlim(t0, t0 + pd.DateOffset(years=2))
    ax.set_ylim(0, 0.2)
    ax.set_yticks([0, 0.05, 0.1, 0.15, 0.2])
    ax.set_yticklabels(['0.0', '0.05', '0.1', '0.15', '0.2'])
    ax.set_xticks(pd.date_range(t0, t0 + pd.DateOffset(years=2), freq='6MS'))
    ax.xaxis.set_major_formatter(mdates.DateFormatter('%b-%Y'))
    ax.set_title(title, fontsize=11.5)

for ax in (ax_a, ax_b, ax_c):
    ax.tick_params(labelsize=11.5)
    for lab in ax.get_xticklabels():
        lab.set_rotation(90)

handles = [
    Line2D([], [], color='black', lw=1.8),
    Patch(facecolor='lightgray', edgecolor='darkgray'),
    Patch(color='darkgreen', alpha=0.22),
    Line2D([], [], color='green', lw=1.8),
    Line2D([], [], color='red', lw=1.8),
]
labels = [
    r'Observed streamflow (flume limited to 0.145 m$^3\,$s$^{-1}$)',
    'Noise around observations',
    'Validation period',
    'Simulated baseflow of all realizations',
    'Simulated total streamflow of all realizations',
]
leg = fig.legend(handles, labels, loc='upper left', bbox_to_anchor=(8 / 1059, 1 - 717 / 793),
                 ncol=2, fontsize=11, columnspacing=5.5, borderaxespad=0, handlelength=2.0,
                 labelspacing=0.55)
for txt in leg.get_texts()[3:]:
    txt.set_fontsize(11.75)

fig.savefig('out.png', dpi=100)
